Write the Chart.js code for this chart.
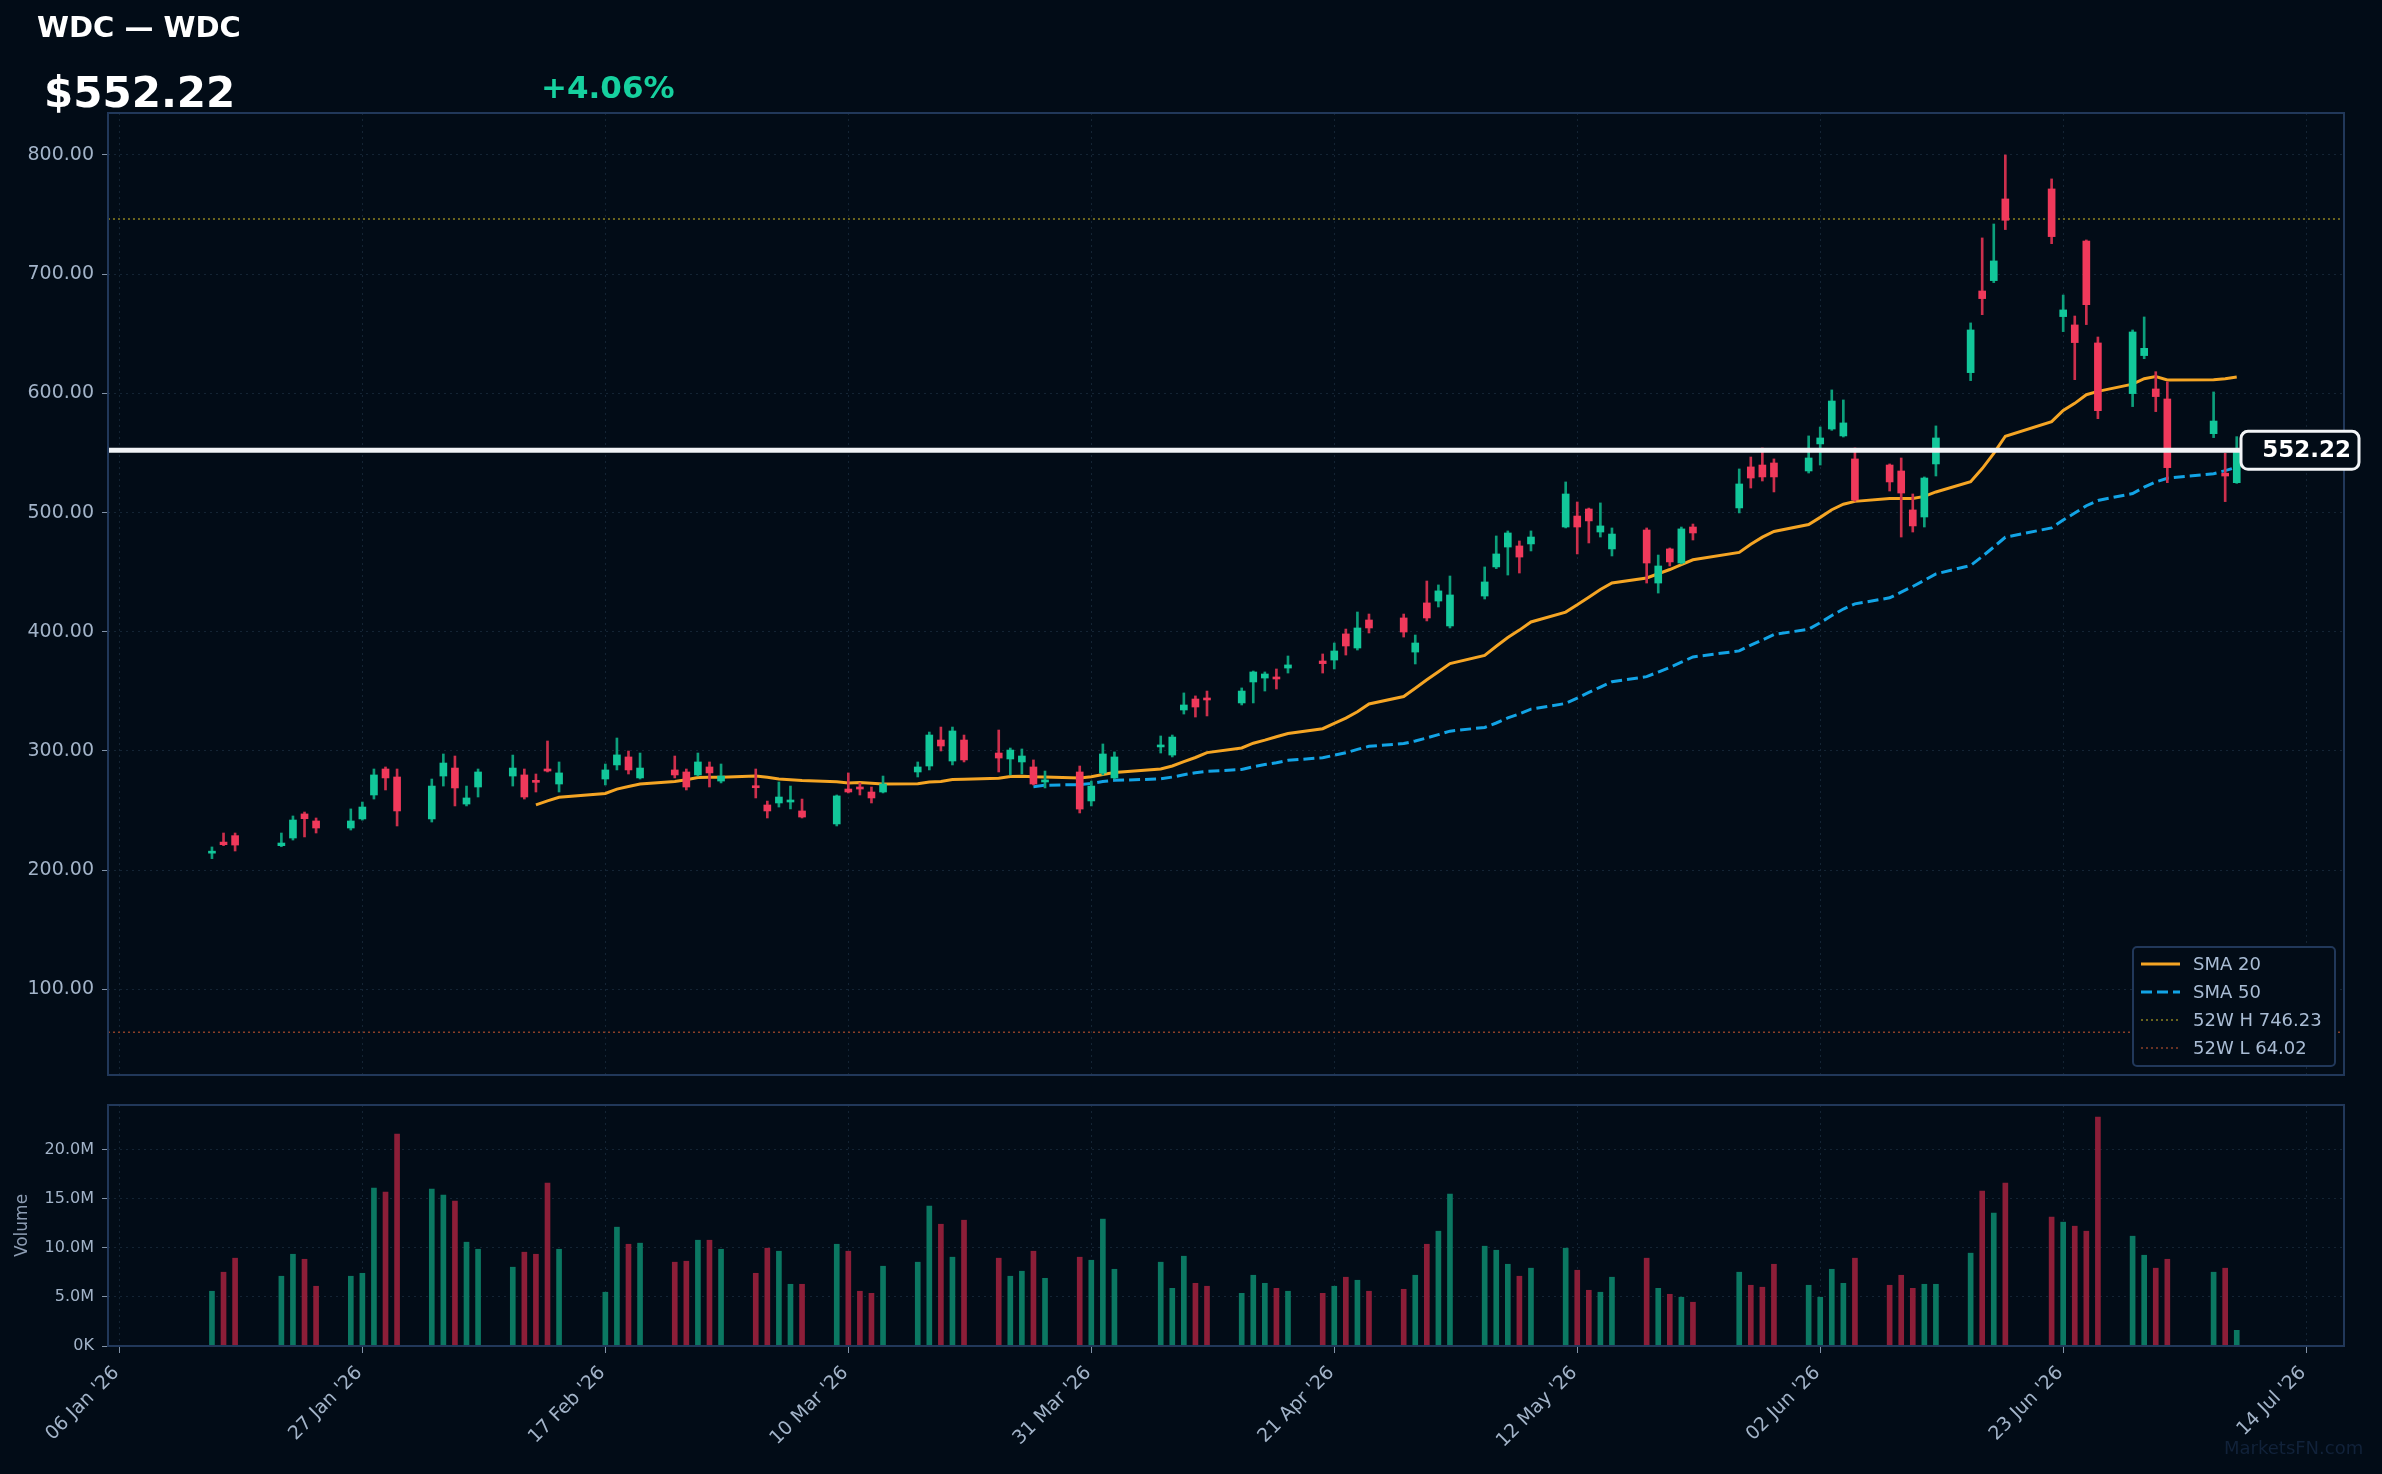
<!DOCTYPE html>
<html>
<head>
<meta charset="utf-8">
<title>WDC — WDC</title>
<script src="https://cdn.jsdelivr.net/npm/chart.js@4.4.1/dist/chart.umd.min.js"></script>
<style>
  html, body { margin: 0; padding: 0; background: #020c17; }
  body { width: 2382px; height: 1474px; position: relative; overflow: hidden; font-family: "DejaVu Sans", sans-serif; }
  #priceWrap { position: absolute; left: 0; top: 0; width: 2382px; height: 1100px; }
  #volWrap { position: absolute; left: 0; top: 1080px; width: 2382px; height: 394px; }
  .hdr { position: absolute; font-weight: bold; line-height: 1; white-space: nowrap; z-index: 2; }
  #title { left: 37px; top: 13px; font-size: 29px; color: #ffffff; }
  #last { left: 44px; top: 72px; font-size: 42px; color: #ffffff; }
  #chg { left: 541px; top: 72px; font-size: 31px; color: #16d19f; }
  #wm { position: absolute; left: 2224px; top: 1439px; font-size: 18px; line-height: 1; color: #11223a; }
</style>
</head>
<body>
<div class="hdr" id="title">WDC — WDC</div>
<div class="hdr" id="last">$552.22</div>
<div class="hdr" id="chg">+4.06%</div>
<div id="priceWrap"><canvas id="priceChart"></canvas></div>
<div id="volWrap"><canvas id="volChart"></canvas></div>
<div id="wm">MarketsFN.com</div>

<script>
// daily candles
const DATES = [
  '2026-01-14','2026-01-15','2026-01-16','2026-01-20','2026-01-21','2026-01-22','2026-01-23','2026-01-26','2026-01-27','2026-01-28',
  '2026-01-29','2026-01-30','2026-02-02','2026-02-03','2026-02-04','2026-02-05','2026-02-06','2026-02-09','2026-02-10','2026-02-11',
  '2026-02-12','2026-02-13','2026-02-17','2026-02-18','2026-02-19','2026-02-20','2026-02-23','2026-02-24','2026-02-25','2026-02-26',
  '2026-02-27','2026-03-02','2026-03-03','2026-03-04','2026-03-05','2026-03-06','2026-03-09','2026-03-10','2026-03-11','2026-03-12',
  '2026-03-13','2026-03-16','2026-03-17','2026-03-18','2026-03-19','2026-03-20','2026-03-23','2026-03-24','2026-03-25','2026-03-26',
  '2026-03-27','2026-03-30','2026-03-31','2026-04-01','2026-04-02','2026-04-06','2026-04-07','2026-04-08','2026-04-09','2026-04-10',
  '2026-04-13','2026-04-14','2026-04-15','2026-04-16','2026-04-17','2026-04-20','2026-04-21','2026-04-22','2026-04-23','2026-04-24',
  '2026-04-27','2026-04-28','2026-04-29','2026-04-30','2026-05-01','2026-05-04','2026-05-05','2026-05-06','2026-05-07','2026-05-08',
  '2026-05-11','2026-05-12','2026-05-13','2026-05-14','2026-05-15','2026-05-18','2026-05-19','2026-05-20','2026-05-21','2026-05-22',
  '2026-05-26','2026-05-27','2026-05-28','2026-05-29','2026-06-01','2026-06-02','2026-06-03','2026-06-04','2026-06-05','2026-06-08',
  '2026-06-09','2026-06-10','2026-06-11','2026-06-12','2026-06-15','2026-06-16','2026-06-17','2026-06-18','2026-06-22','2026-06-23',
  '2026-06-24','2026-06-25','2026-06-26','2026-06-29','2026-06-30','2026-07-01','2026-07-02','2026-07-06','2026-07-07','2026-07-08'
];
const OPEN = [
  214.3, 223.6, 229.0, 220.6, 227.0, 247.2, 241.3, 235.4, 243.0, 263.1,
  284.9, 278.2, 243.0, 279.0, 285.7, 255.5, 269.8, 279.0, 279.9, 274.8,
  284.9, 272.3, 276.5, 288.3, 295.0, 277.4, 284.1, 282.4, 279.9, 286.6,
  274.8, 270.6, 254.7, 256.4, 257.2, 249.7, 238.8, 268.1, 269.8, 265.6,
  265.6, 282.4, 287.4, 309.2, 291.6, 309.2, 298.3, 293.3, 290.8, 286.6,
  274.0, 282.4, 258.1, 281.5, 277.4, 303.4, 296.6, 334.4, 343.6, 343.6,
  340.3, 357.9, 361.2, 362.1, 369.6, 375.5, 376.3, 398.2, 386.4, 409.9,
  411.6, 383.0, 424.2, 425.8, 404.9, 430.0, 454.4, 471.1, 472.0, 473.7,
  487.9, 497.1, 503.0, 483.7, 469.5, 485.4, 440.9, 469.5, 457.7, 487.9,
  503.9, 538.3, 539.9, 541.6, 534.9, 557.6, 570.1, 564.3, 545.0, 539.9,
  534.9, 502.2, 496.3, 540.8, 617.4, 685.9, 694.6, 763.1, 771.5, 664.4,
  657.4, 727.8, 642.3, 599.8, 631.7, 603.7, 595.3, 566.2, 533.0, 525.1
];
const HIGH = [
  219.5, 231.2, 231.2, 231.2, 245.5, 248.8, 243.8, 251.4, 257.2, 284.9,
  286.6, 284.9, 276.5, 297.5, 295.8, 270.6, 284.9, 296.6, 284.9, 280.7,
  308.4, 290.8, 289.1, 310.9, 300.0, 298.3, 295.8, 284.9, 298.3, 290.8,
  289.1, 284.9, 258.0, 274.0, 270.6, 259.7, 263.1, 281.6, 273.2, 269.8,
  279.0, 290.8, 315.9, 320.1, 320.1, 313.4, 317.6, 302.5, 301.7, 292.5,
  283.2, 287.4, 274.8, 305.9, 299.2, 312.6, 313.4, 348.7, 346.2, 350.3,
  352.9, 367.1, 366.3, 368.8, 379.7, 381.4, 390.6, 402.3, 416.6, 414.9,
  414.9, 397.3, 442.6, 439.3, 446.8, 454.4, 480.4, 484.6, 476.2, 484.6,
  525.7, 508.9, 503.8, 508.1, 487.1, 487.1, 464.4, 470.3, 487.9, 490.4,
  536.6, 546.6, 554.2, 545.0, 564.3, 571.8, 602.9, 594.5, 554.2, 540.8,
  545.8, 515.6, 529.9, 572.7, 659.1, 730.4, 742.1, 800.0, 779.9, 682.5,
  664.9, 728.7, 647.3, 653.2, 664.1, 618.2, 609.6, 601.2, 549.7, 563.7
];
const LOW = [
  209.7, 220.6, 216.1, 219.7, 225.3, 227.9, 231.2, 233.7, 242.0, 259.7,
  267.3, 237.1, 240.4, 270.6, 253.9, 253.9, 261.4, 270.6, 259.7, 265.6,
  282.4, 265.6, 271.5, 284.1, 280.7, 276.5, 277.4, 267.3, 279.0, 269.8,
  273.2, 260.6, 243.8, 253.0, 251.4, 243.8, 237.1, 264.8, 263.1, 256.4,
  264.8, 278.2, 284.1, 300.0, 288.3, 290.8, 282.4, 279.9, 280.7, 271.5,
  269.0, 248.0, 253.9, 279.9, 276.5, 298.3, 295.0, 331.0, 328.5, 329.4,
  338.6, 340.3, 350.3, 352.0, 365.4, 365.4, 368.8, 380.5, 384.7, 399.0,
  395.6, 373.0, 409.1, 420.8, 403.2, 427.5, 453.0, 447.6, 449.3, 467.8,
  487.1, 465.3, 474.5, 479.5, 463.6, 440.9, 432.5, 455.2, 456.9, 477.0,
  499.7, 520.6, 526.5, 517.3, 533.2, 539.9, 569.0, 563.4, 509.5, 518.1,
  479.5, 483.7, 487.9, 530.7, 610.7, 666.0, 692.9, 737.4, 725.6, 651.8,
  611.5, 657.7, 578.8, 588.9, 629.1, 584.7, 525.1, 562.9, 509.2, 524.5
];
const CLOSE = [
  215.8, 221.4, 221.1, 222.8, 242.1, 243.2, 235.4, 241.3, 253.0, 279.9,
  277.4, 249.7, 270.6, 289.9, 269.0, 260.6, 282.4, 285.7, 261.4, 273.7,
  283.2, 281.6, 284.1, 296.7, 284.1, 285.7, 279.9, 269.8, 290.8, 281.6,
  279.0, 269.2, 249.7, 261.4, 258.9, 244.6, 262.3, 265.6, 268.1, 260.6,
  272.3, 286.6, 313.4, 304.2, 316.8, 292.5, 294.1, 300.8, 295.8, 272.3,
  275.7, 251.3, 270.6, 297.5, 295.0, 304.2, 311.7, 338.6, 336.9, 342.8,
  350.3, 366.3, 364.6, 360.4, 372.2, 373.3, 383.9, 388.1, 403.2, 403.2,
  399.8, 390.6, 411.6, 434.3, 430.9, 441.8, 465.3, 482.9, 462.7, 479.5,
  515.6, 487.9, 493.0, 488.8, 482.0, 457.7, 455.2, 458.6, 486.3, 482.9,
  524.0, 529.0, 529.9, 529.9, 545.8, 562.6, 593.6, 575.2, 510.6, 525.7,
  516.4, 488.8, 529.0, 562.6, 653.2, 679.5, 711.1, 745.2, 731.5, 670.0,
  642.6, 674.4, 585.5, 651.5, 637.8, 597.3, 537.7, 576.8, 530.67, 552.22
];
// volume in millions of shares
const VOLUME = [
  5.58, 7.52, 8.95, 7.11, 9.35, 8.84, 6.09, 7.11, 7.41, 16.09,
  15.68, 21.6, 15.99, 15.37, 14.76, 10.58, 9.86, 8.03, 9.56, 9.35,
  16.6, 9.86, 5.48, 12.11, 10.37, 10.48, 8.54, 8.64, 10.78, 10.78,
  9.86, 7.41, 9.97, 9.66, 6.29, 6.29, 10.37, 9.66, 5.58, 5.37,
  8.13, 8.54, 14.25, 12.41, 9.05, 12.82, 8.95, 7.11, 7.62, 9.66,
  6.90, 9.05, 8.74, 12.93, 7.82, 8.54, 5.88, 9.15, 6.39, 6.09,
  5.37, 7.21, 6.39, 5.88, 5.58, 5.37, 6.09, 7.01, 6.70, 5.58,
  5.78, 7.21, 10.37, 11.70, 15.48, 10.17, 9.76, 8.33, 7.11, 7.93,
  9.97, 7.72, 5.68, 5.48, 7.01, 8.95, 5.88, 5.27, 4.97, 4.46,
  7.52, 6.19, 5.99, 8.33, 6.19, 4.97, 7.82, 6.39, 8.95, 6.19,
  7.21, 5.88, 6.29, 6.29, 9.46, 15.78, 13.54, 16.6, 13.13, 12.62,
  12.21, 11.70, 23.33, 11.19, 9.25, 7.93, 8.84, 7.52, 7.93, 1.60
];
const W52_HIGH = 746.23;
const W52_LOW = 64.02;

const X_TICK_DATES = ['2026-01-06','2026-01-27','2026-02-17','2026-03-10','2026-03-31','2026-04-21','2026-05-12','2026-06-02','2026-06-23','2026-07-14'];
const X_TICK_LABELS = ["06 Jan '26","27 Jan '26","17 Feb '26","10 Mar '26","31 Mar '26","21 Apr '26","12 May '26","02 Jun '26","23 Jun '26","14 Jul '26"];
const PRICE_TICKS = [100, 200, 300, 400, 500, 600, 700, 800];
const VOLUME_TICKS = [0, 5, 10, 15, 20];

// colours
const BG = '#020c17';
const FRAME = '#21385a';
const GRID = 'rgba(70,100,130,0.28)';
const TICK = '#a3b4c9';
const TICKMARK = '#8293a8';
const UP = '#12c79a', UP_WICK = '#0c9f7b';
const DOWN = '#f0395b', DOWN_WICK = '#cc2f4c';
const VOL_UP = '#0b7862', VOL_DOWN = '#8c1e38';

const dayNum = d => Math.round(Date.parse(d + 'T00:00:00Z') / 86400000);
const X0 = dayNum('2026-01-06');
const xOf = d => dayNum(d) - X0;
const X_MIN = xOf('2026-01-05') + 0.015;
const X_MAX = xOf('2026-07-17') + 0.27;
const isUp = i => CLOSE[i] >= OPEN[i];

function sma(vals, n) {
  return vals.map((v, i) => {
    if (i < n - 1) return null;
    let s = 0;
    for (let k = i - n + 1; k <= i; k++) s += vals[k];
    return s / n;
  });
}
const sma20 = sma(CLOSE, 20);
const sma50 = sma(CLOSE, 50);

Chart.defaults.font.family = '"DejaVu Sans", sans-serif';
Chart.defaults.animation = false;

function roundRectPath(ctx, x, y, w, h, r) {
  ctx.beginPath();
  ctx.moveTo(x + r, y);
  ctx.lineTo(x + w - r, y);
  ctx.arcTo(x + w, y, x + w, y + r, r);
  ctx.lineTo(x + w, y + h - r);
  ctx.arcTo(x + w, y + h, x + w - r, y + h, r);
  ctx.lineTo(x + r, y + h);
  ctx.arcTo(x, y + h, x, y + h - r, r);
  ctx.lineTo(x, y + r);
  ctx.arcTo(x, y, x + r, y, r);
  ctx.closePath();
}

const framePlugin = {
  id: 'frame',
  afterDatasetsDraw(chart) {
    const {ctx, chartArea: a} = chart;
    ctx.save();
    ctx.strokeStyle = FRAME;
    ctx.lineWidth = 2;
    ctx.strokeRect(a.left, a.top, a.right - a.left, a.bottom - a.top);
    ctx.restore();
  }
};

const overlayPlugin = {
  id: 'overlay',
  afterDatasetsDraw(chart) {
    const {ctx, chartArea: a, scales} = chart;
    ctx.save();
    // last price tag
    const last = CLOSE[CLOSE.length - 1];
    const py = scales.y.getPixelForValue(last);
    const bw = 118, bh = 38, bx = a.right - 103;
    roundRectPath(ctx, bx, py - bh / 2, bw, bh, 7);
    ctx.fillStyle = BG;
    ctx.fill();
    ctx.lineWidth = 3;
    ctx.strokeStyle = '#f2f4f7';
    ctx.stroke();
    ctx.fillStyle = '#ffffff';
    ctx.font = 'bold 23px "DejaVu Sans"';
    ctx.textAlign = 'right';
    ctx.textBaseline = 'middle';
    ctx.fillText(last.toFixed(2), bx + bw - 8, py + 1);

    // legend box
    const items = chart.data.datasets.filter(ds => ds.inLegend);
    const lw = 202, lh = 119;
    const lx = a.right - 9 - lw, ly = a.bottom - 9 - lh;
    roundRectPath(ctx, lx, ly, lw, lh, 4);
    ctx.fillStyle = BG;
    ctx.fill();
    ctx.lineWidth = 2;
    ctx.strokeStyle = FRAME;
    ctx.stroke();
    ctx.font = '18px "DejaVu Sans"';
    ctx.textAlign = 'left';
    items.forEach((ds, k) => {
      const ry = ly + 17 + k * 28;
      ctx.beginPath();
      ctx.setLineDash(ds.borderDash || []);
      ctx.strokeStyle = ds.borderColor;
      ctx.lineWidth = ds.borderWidth;
      ctx.moveTo(lx + 8, ry);
      ctx.lineTo(lx + 47, ry);
      ctx.stroke();
      ctx.setLineDash([]);
      ctx.fillStyle = '#a9bcd4';
      ctx.fillText(ds.label, lx + 60, ry + 1);
    });
    ctx.restore();
  }
};

const hLine = v => [{x: X_MIN, y: v}, {x: X_MAX, y: v}];

new Chart(document.getElementById('priceChart'), {
  type: 'bar',
  data: {
    datasets: [
      {
        type: 'line', label: 'last', order: 0,
        data: hLine(CLOSE[CLOSE.length - 1]),
        borderColor: '#f1f3f6', borderWidth: 5, pointRadius: 0
      },
      {
        label: 'body', order: 1, grouped: false, barThickness: 7, minBarLength: 2,
        data: DATES.map((d, i) => ({x: xOf(d), y: [OPEN[i], CLOSE[i]]})),
        backgroundColor: DATES.map((d, i) => isUp(i) ? UP : DOWN)
      },
      {
        label: 'wick', order: 2, grouped: false, barThickness: 2,
        data: DATES.map((d, i) => ({x: xOf(d), y: [LOW[i], HIGH[i]]})),
        backgroundColor: DATES.map((d, i) => isUp(i) ? UP_WICK : DOWN_WICK)
      },
      {
        type: 'line', label: 'SMA 20', inLegend: true, order: 3,
        data: DATES.map((d, i) => ({x: xOf(d), y: sma20[i]})),
        borderColor: '#f5a524', borderWidth: 3, pointRadius: 0, borderDash: []
      },
      {
        type: 'line', label: 'SMA 50', inLegend: true, order: 3,
        data: DATES.map((d, i) => ({x: xOf(d), y: sma50[i]})),
        borderColor: '#12a4e6', borderWidth: 3, pointRadius: 0, borderDash: [11, 5]
      },
      {
        type: 'line', label: '52W H ' + W52_HIGH.toFixed(2), inLegend: true, order: 4,
        data: hLine(W52_HIGH),
        borderColor: '#8c8020', borderWidth: 1.5, pointRadius: 0, borderDash: [2, 3]
      },
      {
        type: 'line', label: '52W L ' + W52_LOW.toFixed(2), inLegend: true, order: 4,
        data: hLine(W52_LOW),
        borderColor: '#8a3f28', borderWidth: 1.5, pointRadius: 0, borderDash: [2, 3]
      }
    ]
  },
  options: {
    responsive: true,
    maintainAspectRatio: false,
    layout: {padding: {left: 0, right: 38, top: 113, bottom: 25}},
    plugins: {legend: {display: false}, tooltip: {enabled: false}},
    scales: {
      x: {
        type: 'linear', min: X_MIN, max: X_MAX, offset: false,
        afterBuildTicks: s => { s.ticks = X_TICK_DATES.map(d => ({value: xOf(d)})); },
        ticks: {display: false},
        grid: {color: GRID, drawTicks: false, offset: false},
        border: {display: false, dash: [2, 4]},
        afterFit: s => { s.height = 0; }
      },
      y: {
        type: 'linear', min: 28.2, max: 835.2,
        afterBuildTicks: s => { s.ticks = PRICE_TICKS.map(v => ({value: v})); },
        ticks: {color: TICK, font: {size: 19}, padding: 8, callback: v => v.toFixed(2)},
        grid: {color: GRID, tickColor: TICKMARK, tickLength: 6},
        border: {display: false, dash: [2, 4]},
        afterFit: s => { s.width = 108; }
      }
    }
  },
  plugins: [framePlugin, overlayPlugin]
});

new Chart(document.getElementById('volChart'), {
  type: 'bar',
  data: {
    datasets: [{
      label: 'Volume', barThickness: 5, grouped: false,
      data: DATES.map((d, i) => ({x: xOf(d), y: VOLUME[i]})),
      backgroundColor: DATES.map((d, i) => isUp(i) ? VOL_UP : VOL_DOWN)
    }]
  },
  options: {
    responsive: true,
    maintainAspectRatio: false,
    layout: {padding: {left: 0, right: 38, top: 25, bottom: 0}},
    plugins: {legend: {display: false}, tooltip: {enabled: false}},
    scales: {
      x: {
        type: 'linear', min: X_MIN, max: X_MAX, offset: false,
        afterBuildTicks: s => { s.ticks = X_TICK_DATES.map(d => ({value: xOf(d)})); },
        ticks: {
          color: TICK, font: {size: 19}, autoSkip: false, maxRotation: 45, minRotation: 45,
          padding: 9, labelOffset: -3,
          callback: (v, i) => X_TICK_LABELS[i]
        },
        grid: {color: GRID, tickColor: TICKMARK, tickLength: 7, offset: false},
        border: {display: false, dash: [2, 4]},
        afterFit: s => { s.height = 128; }
      },
      y: {
        type: 'linear', min: 0, max: 24.56,
        afterBuildTicks: s => { s.ticks = VOLUME_TICKS.map(v => ({value: v})); },
        ticks: {color: TICK, font: {size: 16}, padding: 8, callback: v => v === 0 ? '0K' : v.toFixed(1) + 'M'},
        grid: {color: GRID, tickColor: TICKMARK, tickLength: 6},
        border: {display: false, dash: [2, 4]},
        title: {display: true, text: 'Volume', color: '#8d9db3', font: {size: 17}, padding: {top: 12, bottom: 0}},
        afterFit: s => { s.width = 108; }
      }
    }
  },
  plugins: [framePlugin]
});
</script>
</body>
</html>
